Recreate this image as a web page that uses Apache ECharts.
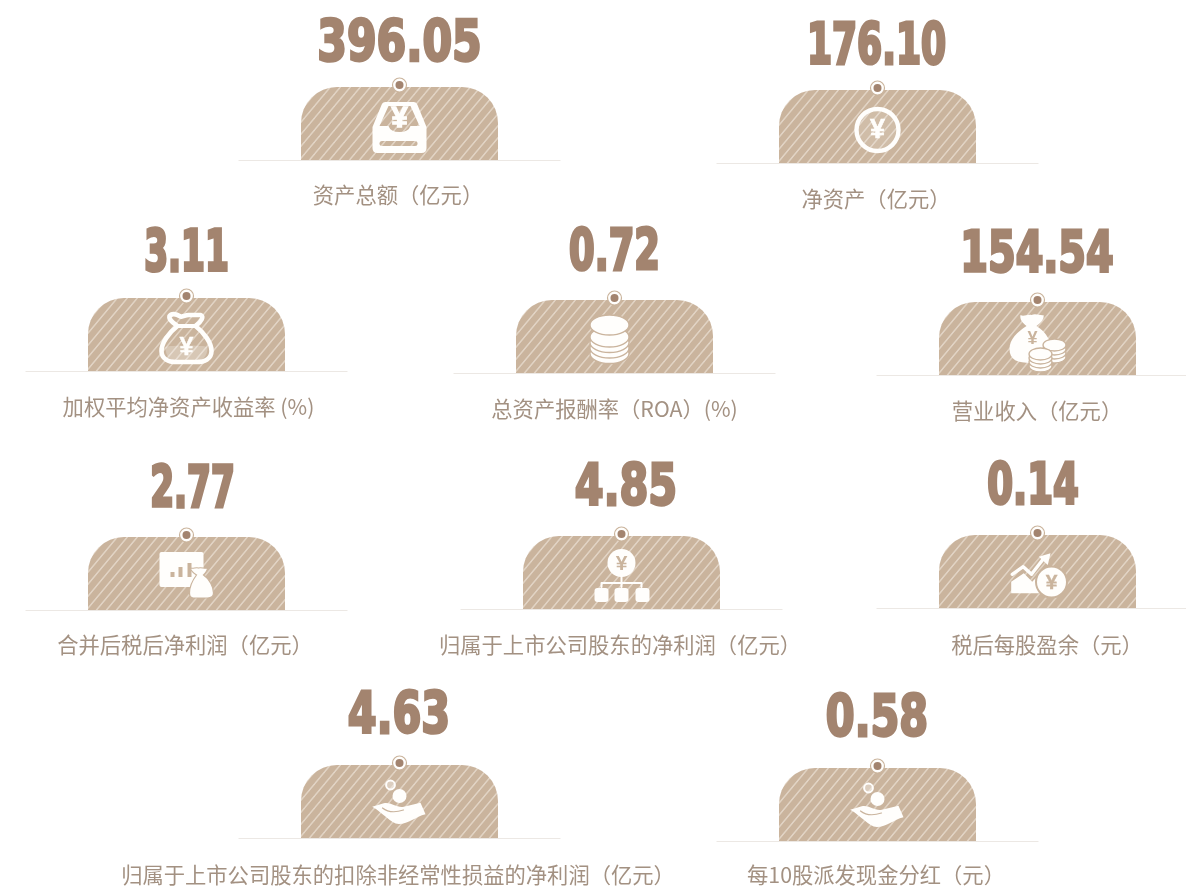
<!DOCTYPE html>
<html><head><meta charset="utf-8">
<style>html,body{margin:0;padding:0;background:#fff}#c{width:1186px;height:889px}</style>
<script src="https://cdn.jsdelivr.net/npm/echarts@6/dist/echarts.min.js"></script>
</head><body><div id="c"></div>
<script>
// ---- data ----
const metricValues = [396.05, 176.10, 3.11, 0.72, 154.54, 2.77, 4.85, 0.14, 4.63, 0.58];
const metricLabels = [
  '资产总额（亿元）', '净资产（亿元）', '加权平均净资产收益率 (%)', '总资产报酬率（ROA）(%)', '营业收入（亿元）',
  '合并后税后净利润（亿元）', '归属于上市公司股东的净利润（亿元）', '税后每股盈余（元）',
  '归属于上市公司股东的扣除非经常性损益的净利润（亿元）', '每10股派发现金分红（元）'
];
const metricIcons = ['tray', 'coin', 'bag', 'stack', 'money', 'board', 'tree', 'trend', 'hand', 'hand'];

// ---- layout (page pixels): tile centre x, tile bottom y, number centre, label centre ----
const tileX   = [399.5, 877.5, 186.5, 614.5, 1037.5, 186.5, 621.5, 1037.5, 399.5, 877.5];
const tileY   = [160, 163, 371, 373, 375, 610, 609, 608, 838, 841];
const numberX = [399.5, 876.5, 186.5, 614.5, 1037, 192.5, 626, 1033, 399, 877];
const numberY = [46, 49, 256, 255, 257, 492, 490, 489, 718, 721];
const numberScale = [0.74, 0.626, 0.596, 0.64, 0.69, 0.596, 0.72, 0.645, 0.72, 0.72];
const labelX  = [398, 876, 188.5, 614.5, 1037, 185, 620, 1047, 398, 876];
const labelY  = [195, 199, 407, 409, 411, 645, 645, 645, 875, 875];

const INK = '#a3846f', TILE = '#cab49d', TEXT = '#a39182', RULE = '#ece8e4', W = '#fffefc';
const TW = 197, TH = 73, CHART_W = 1186, CHART_H = 889;

function hatchCanvas() {
  const w = 10, h = 12, c = document.createElement('canvas');
  c.width = w; c.height = h;
  const g = c.getContext('2d');
  g.fillStyle = TILE; g.fillRect(0, 0, w, h);
  g.strokeStyle = '#f8f2eb'; g.lineWidth = 1;
  [-w, 0, w].forEach(o => { g.beginPath(); g.moveTo(o, h); g.lineTo(o + w, 0); g.stroke(); });
  return c;
}
const HATCH = { image: hatchCanvas(), repeat: 'repeat' };

// ---- icon primitives, local to tile-centre/bottom ----
const P = (d, fill, extra) => ({ type: 'path', shape: { pathData: d }, style: Object.assign({ fill: fill }, extra || {}) });
const Line = (d, stroke, w) => ({ type: 'path', shape: { pathData: d }, style: { fill: 'none', stroke: stroke, lineWidth: w, lineCap: 'round', lineJoin: 'round' } });
const Circ = (x, y, r, fill, extra) => ({ type: 'circle', shape: { cx: x, cy: y, r: r }, style: Object.assign({ fill: fill }, extra || {}) });
const Ell = (x, y, a, b, fill, extra) => ({ type: 'ellipse', shape: { cx: x, cy: y, rx: a, ry: b }, style: Object.assign({ fill: fill }, extra || {}) });
const Rct = (x, y, w, h, r, fill, extra) => ({ type: 'rect', shape: { x: x, y: y, width: w, height: h, r: r }, style: Object.assign({ fill: fill }, extra || {}) });
const Yen = (x, y, size, fill, weight) => ({ type: 'text', x: x, y: y + 1, style: { text: '¥', fontFamily: '"Liberation Sans", sans-serif', fontWeight: 'bold', fontSize: size, fill: fill, stroke: fill, lineWidth: weight || 0, align: 'center', verticalAlign: 'middle', textAlign: 'center', textVerticalAlign: 'middle' } });

function coinStack(x, ys, a, b) {
  return ys.map(y => Ell(x, y, a, b, W, { stroke: TILE, lineWidth: 1.3 }));
}
const iconDrawers = {
  tray() {
    return [
      P('M-14,-58 L14,-58 Q17,-58 18,-55 L27,-33 L27,-12 Q27,-7 22,-7 L-22,-7 Q-27,-7 -27,-12 L-27,-33 L-18,-55 Q-17,-58 -14,-58 Z', W),
      P('M-11,-54 L11,-54 L20,-34 L11,-34 Q9,-28 0,-28 Q-9,-28 -11,-34 L-20,-34 Z', HATCH),
      Yen(0, -42, 29, W, 1.4),
      Rct(-20, -19, 38, 5, 2.5, HATCH)
    ];
  },
  coin() {
    return [
      Circ(0, -33, 21, 'rgba(255,255,255,0.12)', { stroke: W, lineWidth: 4.4 }),
      Yen(0, -33, 27, W, 0.6)
    ];
  },
  bag() {
    return [
      P('M-21,-24 C-16,-26 16,-26 21,-24 C21,-14 16,-10 9,-10 L-9,-10 C-16,-10 -21,-14 -21,-24 Z', 'rgba(255,255,255,0.25)'),
      Line('M-9,-45 C-13,-48 -18,-51 -17,-55 C-15,-58 -10,-57 -7,-55 C-4,-53 -2,-56 2,-56 C6,-56 10,-56 14,-56 C18,-55 15,-49 9,-45 C18,-38 25,-28 25,-20 C25,-12 18,-9 10,-9 L-10,-9 C-18,-9 -25,-12 -25,-20 C-25,-28 -18,-38 -9,-45 Z', W, 4.6),
      Line('M-9,-45 L9,-45', W, 4),
      Yen(0, -24, 25, W, 0.4)
    ];
  },
  stack() {
    return coinStack(-5, [-19.5, -25, -30.5, -36, -48], 19.5, 10);
  },
  money() {
    return [
      P('M-17,-60 C-14,-58 -10,-61 -6,-60 C-2,-62 4,-59 6,-60 C7,-56 3,-52 -1,-49 C10,-42 14,-33 14,-23 C14,-14 6,-12 -6,-12 C-20,-12 -28,-15 -28,-26 C-28,-36 -20,-43 -11,-49 C-15,-52 -18,-56 -17,-60 Z', W),
      Yen(-5, -37, 18, TILE, 0)
    ].concat(coinStack(17, [-18, -22, -26, -30], 11.5, 6), coinStack(3, [-9, -13, -17, -21], 11.5, 6));
  },
  board() {
    return [
      Rct(-27, -58, 44, 35, 2, W),
      Rct(-16, -38, 4, 5, 0, TILE), Rct(-8, -43, 4, 10, 0, TILE), Rct(1, -47, 4, 14, 0, TILE),
      P('M4,-42 C7,-41 9,-43 12,-42 C15,-43 18,-41 21,-42 C21,-39 19,-37 17,-35 C23,-31 27,-23 27,-17 C27,-13 24,-12 21,-12 L7,-12 C4,-12 3,-14 3,-17 C3,-24 7,-31 10,-35 C7,-37 4,-39 4,-42 Z', W, { stroke: TILE, lineWidth: 1.2 })
    ];
  },
  tree() {
    return [
      Line('M0,-34 L0,-22 M-20,-22 L-20,-26 L20,-26 L20,-22', W, 2),
      Circ(0, -46, 14, W),
      Yen(0, -46, 21, TILE, 0),
      Rct(-27, -21, 14, 14, 3, W), Rct(-7, -21, 14, 14, 3, W), Rct(14, -21, 14, 14, 3, W)
    ];
  },
  trend() {
    return [
      P('M-26.3,-26.3 L-13.7,-34.7 L-5.3,-26.3 L1.3,-33 L1.3,-14.7 L-26.3,-14.7 Z', W),
      Line('M-25.3,-33.7 L-14.3,-41.3 L-6,-33.7 L5,-48', W, 3.4),
      P('M1.3,-51.3 L13,-54.7 L10.3,-43 Z', W),
      Circ(14, -26, 15.5, W, { stroke: TILE, lineWidth: 2 }),
      Yen(14, -26, 21, TILE, 0.4)
    ];
  },
  hand() {
    return [
      Circ(-9, -53, 4.4, 'rgba(255,255,255,0.35)', { stroke: W, lineWidth: 2 }),
      Circ(0, -42, 7, W),
      P('M-27.3,-31.3 L-15.7,-34.7 C-9,-36.3 -2.3,-29.7 4.3,-31.3 L21,-35.3 L26,-23.7 C16,-21.3 9.3,-14 -0.7,-14 C-9,-14.7 -15.7,-24.7 -27.3,-31.3 Z', W),
      Line('M-17,-30 C-12,-26 -5,-25 4,-28', TILE, 1.2)
    ];
  }
};

function renderTile(params, api) {
  const i = api.value(2);
  const o = api.coord([api.value(0), api.value(1)]);
  const num = api.coord([numberX[i], numberY[i]]);
  const lab = api.coord([labelX[i], labelY[i]]);
  const children = [
    Rct(-TW / 2, -TH, TW, TH, [36, 36, 0, 0], HATCH),
    { type: 'line', shape: { x1: -161, y1: 0.5, x2: 161, y2: 0.5 }, style: { stroke: RULE, lineWidth: 1 } },
    Circ(0, -TH - 2, 7, W, { stroke: TILE, lineWidth: 1.2 }),
    Circ(0, -TH - 2, 4, INK)
  ].concat(iconDrawers[metricIcons[i]]());
  children.push({
    type: 'text', x: num[0] - o[0], y: num[1] - o[1], scaleX: numberScale[i], scaleY: 0.9,
    style: { text: metricValues[i].toFixed(2), fontFamily: '"DejaVu Sans Condensed", "DejaVu Sans", sans-serif', fontWeight: 'bold', fontSize: 64, fill: INK, stroke: INK, lineWidth: 3 * 0.74 / numberScale[i], lineJoin: 'miter', align: 'center', verticalAlign: 'middle', textAlign: 'center', textVerticalAlign: 'middle' }
  });
  children.push({
    type: 'text', x: lab[0] - o[0], y: lab[1] - o[1],
    style: { text: metricLabels[i], fontFamily: '"Noto Sans CJK SC", sans-serif', fontSize: 21.3, fill: TEXT, align: 'center', verticalAlign: 'middle', textAlign: 'center', textVerticalAlign: 'middle' }
  });
  return { type: 'group', x: o[0], y: o[1], children: children };
}

const chart = echarts.init(document.getElementById('c'), null, { renderer: 'canvas' });
chart.setOption({
  animation: false,
  backgroundColor: '#ffffff',
  grid: { left: 0, right: 0, top: 0, bottom: 0 },
  xAxis: { type: 'value', min: 0, max: CHART_W, show: false },
  yAxis: { type: 'value', min: 0, max: CHART_H, inverse: true, show: false },
  series: [{
    type: 'custom',
    clip: false,
    silent: true,
    encode: { x: 0, y: 1 },
    data: metricValues.map((v, i) => [tileX[i], tileY[i], i]),
    renderItem: renderTile
  }]
});
</script></body></html>
